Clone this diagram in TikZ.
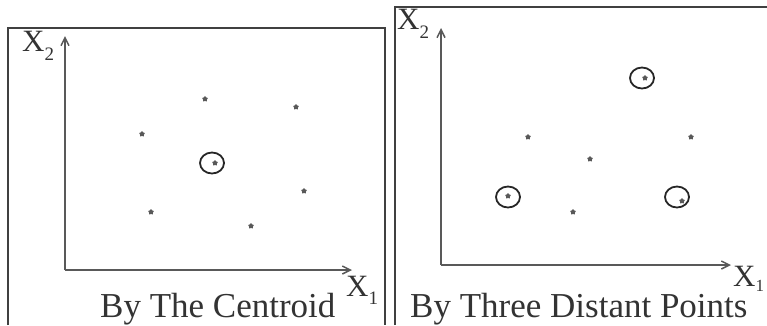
\documentclass[tikz,border=0pt]{standalone}
\usepackage{fontspec}
\setmainfont{Liberation Serif}
\usetikzlibrary{arrows.meta,shapes.geometric}
\begin{document}
\begin{tikzpicture}[x=1pt,y=-1pt,
  frame/.style={draw=black!75,line width=1.8pt},
  axis/.style={draw=black!65,line width=2.6pt,-{Straight Barb[length=8pt,width=8pt,line width=1.5pt]}},
  pt/.style={star,star points=5,fill=black!65,inner sep=0pt,minimum size=6pt},
  ring/.style={ellipse,draw=black!85,line width=1.8pt,inner sep=0pt,minimum width=24pt,minimum height=21pt},
  axlab/.style={inner sep=0pt,font=\fontsize{31}{31}\selectfont,text=black!80},
  captext/.style={inner sep=0pt,anchor=base west,font=\fontsize{35}{35}\selectfont,text=black!80}]
\useasboundingbox (0,0) rectangle (767,325);
% left panel frame
\coordinate (lf1) at (8,325);
\coordinate (lf2) at (8,28);
\coordinate (lf3) at (385,28);
\coordinate (lf4) at (385,325);
\draw[frame] (lf1) -- (lf2) -- (lf3) -- (lf4);
% left axes
\coordinate (lo) at (65,270);
\coordinate (ly) at (65,36);
\coordinate (lx) at (352,270);
\draw[axis] (lo) -- (ly);
\draw[axis] (lo) -- (lx);
\node[axlab,anchor=west] (lX2) at (22,46) {X\raisebox{-9pt}{\fontsize{19}{19}\selectfont 2}};
\node[axlab,anchor=west] (lX1) at (346,290) {X\raisebox{-8pt}{\fontsize{19}{19}\selectfont 1}};
% left points
\node[pt] (a1) at (205,99) {};
\node[pt] (a2) at (296,107) {};
\node[pt] (a3) at (142,134) {};
\node[pt] (a4) at (215,163) {};
\node[pt] (a5) at (304,191) {};
\node[pt] (a6) at (151,212) {};
\node[pt] (a7) at (251,226) {};
\node[ring] (ac) at (212,163) {};
\node[captext] (lcap) at (100,317) {By The Centroid};
% right panel frame
\coordinate (rf1) at (395,325);
\coordinate (rf2) at (395,7);
\coordinate (rf3) at (767,7);
\draw[frame] (rf1) -- (rf2) -- (rf3);
% right axes
\coordinate (ro) at (441,265);
\coordinate (ry) at (441,28);
\coordinate (rx) at (731,265);
\draw[axis] (ro) -- (ry);
\draw[axis] (ro) -- (rx);
\node[axlab,anchor=west] (rX2) at (397,24) {X\raisebox{-9pt}{\fontsize{19}{19}\selectfont 2}};
\node[axlab,anchor=west] (rX1) at (733,279) {X\raisebox{-5pt}{\fontsize{17}{17}\selectfont 1}};
% right points
\node[pt] (b1) at (645,78) {};
\node[pt] (b2) at (528,137) {};
\node[pt] (b3) at (691,137) {};
\node[pt] (b4) at (590,159) {};
\node[pt] (b5) at (508,196) {};
\node[pt] (b6) at (573,212) {};
\node[pt] (b7) at (682,201) {};
\node[ring] (bc1) at (642,78) {};
\node[ring] (bc2) at (508,197) {};
\node[ring] (bc3) at (677,197) {};
\node[captext] (rcap) at (410,317) {By Three Distant Points};
\end{tikzpicture}
\end{document}
